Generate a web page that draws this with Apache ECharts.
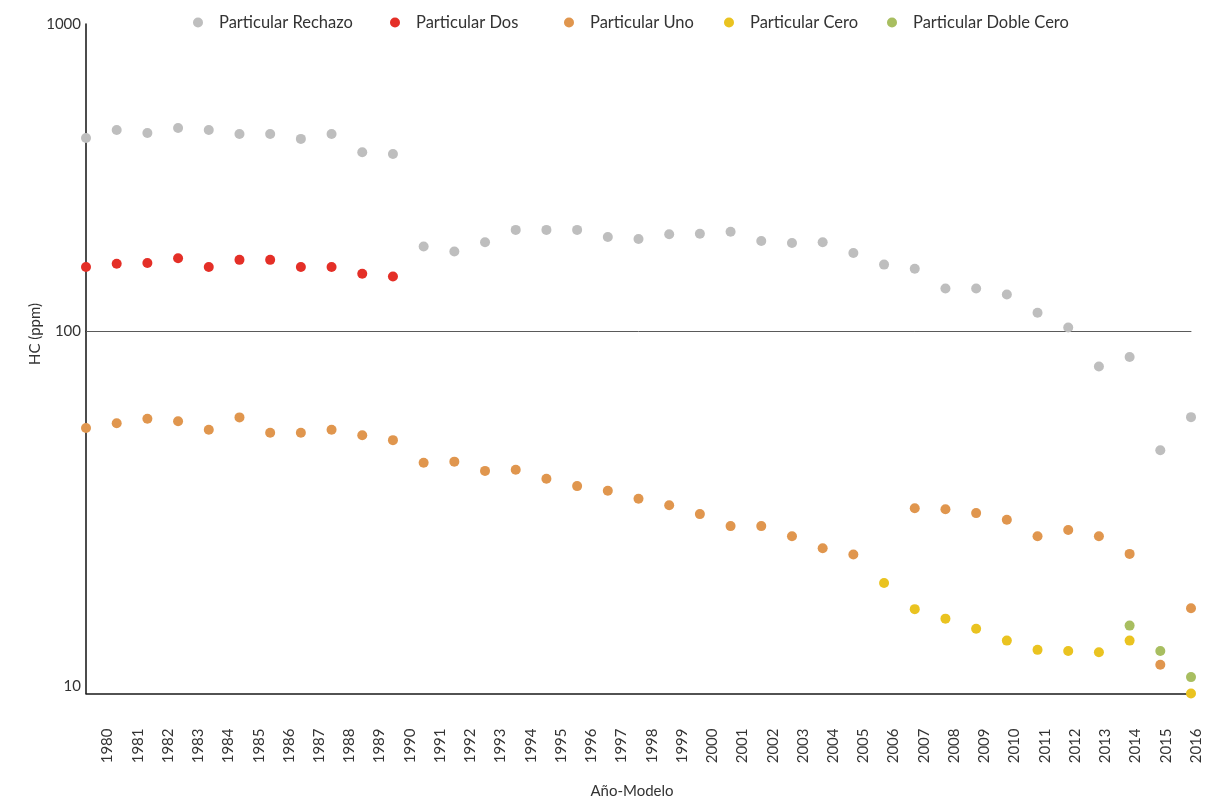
<!DOCTYPE html>
<html>
<head>
<meta charset="utf-8">
<title>HC (ppm) por Año-Modelo</title>
<script src="https://cdn.jsdelivr.net/npm/echarts@6/dist/echarts.min.js"></script>
<style>
  html, body { margin: 0; padding: 0; background: #fff; }
  #chart-wrap { width: 1224px; height: 801px; }
</style>
</head>
<body>
<div id="chart-wrap"></div>
<script>
  // categorias (año-modelo)
  const years = ['1980', '1981', '1982', '1983', '1984', '1985', '1986', '1987', '1988', '1989',
    '1990', '1991', '1992', '1993', '1994', '1995', '1996', '1997', '1998', '1999',
    '2000', '2001', '2002', '2003', '2004', '2005', '2006', '2007', '2008', '2009',
    '2010', '2011', '2012', '2013', '2014', '2015', '2016']

  // HC (ppm) por tipo
  const rechazo = [426, 452, 442, 459, 452, 439, 439, 423, 439, 383,
    378, 189, 182, 195, 214, 214, 214, 203, 200, 207,
    208, 211, 197, 194, 195, 180, 165, 160, 138, 138,
    132, 115, 103, 80, 85, 47, 58]
  const dos = [162, 166, 167, 173, 162, 171, 171, 162, 162, 154,
    151, null, null, null, null, null, null, null, null, null,
    null, null, null, null, null, null, null, null, null, null,
    null, null, null, null, null, null, null]
  const uno = [54.1, 55.8, 57.4, 56.5, 53.5, 57.9, 52.5, 52.5, 53.5, 51.7,
    50.1, 43.4, 43.7, 41.2, 41.5, 39.2, 37.4, 36.3, 34.5, 33.1,
    31.3, 29.0, 29.0, 27.2, 25.2, 24.2, null, 32.5, 32.3, 31.5,
    30.2, 27.2, 28.3, 27.2, 24.3, 12.0, 17.2]
  const cero = [null, null, null, null, null, null, null, null, null, null,
    null, null, null, null, null, null, null, null, null, null,
    null, null, null, null, null, null, 20.2, 17.1, 16.1, 15.1,
    14.0, 13.2, 13.1, 13.0, 14.0, null, 10.0]
  const dobleCero = [null, null, null, null, null, null, null, null, null, null,
    null, null, null, null, null, null, null, null, null, null,
    null, null, null, null, null, null, null, null, null, null,
    null, null, null, null, 15.4, 13.1, 11.1]

  const names = ['Particular Rechazo', 'Particular Dos', 'Particular Uno', 'Particular Cero', 'Particular Doble Cero']
  const valueLists = [rechazo, dos, uno, cero, dobleCero]
  const colors = ['#bebebe', '#e42f27', '#e0964e', '#eac320', '#a8be60']
  const legendLeft = [193, 390, 564, 724, 887]

  const font = 'Lato, "Noto Sans", sans-serif'
  const txtColor = '#333'

  const mychart = echarts.init(document.getElementById('chart-wrap'))

  // la escala log del original no es uniforme: cada decada va en su propio grid
  const series = []
  valueLists.forEach((list, i) => {
    const base = {
      type: 'scatter',
      name: names[i],
      symbol: 'circle',
      symbolSize: 10,
      clip: false,
      itemStyle: { color: colors[i], opacity: 1 },
      emphasis: { disabled: true }
    }
    series.push(Object.assign({}, base, {
      xAxisIndex: 0,
      yAxisIndex: 0,
      data: list.map(v => (v != null && v >= 100 ? v : '-'))
    }))
    series.push(Object.assign({}, base, {
      xAxisIndex: 1,
      yAxisIndex: 1,
      data: list.map(v => (v != null && v < 100 ? v : '-'))
    }))
  })

  const hiddenCat = (gridIndex, lineColor, lineWidth) => ({
    gridIndex,
    type: 'category',
    data: years,
    boundaryGap: false,
    axisLine: { show: true, lineStyle: { color: lineColor, width: lineWidth } },
    axisTick: { show: false },
    axisLabel: { show: false },
    splitLine: { show: false }
  })

  const options = {
    animation: false,
    backgroundColor: '#fff',
    textStyle: { fontFamily: font },
    legend: names.map((n, i) => ({
      data: [n],
      left: legendLeft[i],
      top: 14,
      padding: 0,
      icon: 'circle',
      itemWidth: 32,
      itemHeight: 10,
      textStyle: { fontSize: 16.5, color: txtColor, fontFamily: font }
    })),
    grid: [
      { left: 86, right: 33, top: 24, height: 307.5 },
      { left: 86, right: 33, top: 331.5, height: 362 },
      { left: 107.5, right: 28, top: 331.5, height: 362 }
    ],
    xAxis: [
      hiddenCat(0, '#5a5a5a', 1),
      hiddenCat(1, '#1a1a1a', 1.5),
      {
        gridIndex: 2,
        type: 'category',
        data: years,
        boundaryGap: false,
        axisLine: { show: false },
        axisTick: { show: false },
        splitLine: { show: false },
        axisLabel: {
          interval: 0,
          rotate: 90,
          margin: 35,
          fontSize: 15,
          color: txtColor,
          fontFamily: font
        }
      }
    ],
    yAxis: [
      {
        gridIndex: 0,
        type: 'log',
        logBase: 10,
        min: 100,
        max: 1000,
        axisLine: { show: true, lineStyle: { color: '#111', width: 1.5 } },
        axisTick: { show: false },
        splitLine: { show: false },
        axisLabel: {
          fontSize: 15,
          color: txtColor,
          fontFamily: font,
          margin: 5,
          formatter: v => String(Math.round(v))
        }
      },
      {
        gridIndex: 1,
        type: 'log',
        logBase: 10,
        min: 10,
        max: 100,
        axisLine: { show: true, lineStyle: { color: '#111', width: 1.5 } },
        axisTick: { show: false },
        splitLine: { show: false },
        axisLabel: {
          fontSize: 15,
          color: txtColor,
          fontFamily: font,
          margin: 5,
          verticalAlign: 'bottom',
          formatter: v => (Math.round(v) === 10 ? '10' : '')
        }
      },
      { gridIndex: 2, type: 'value', show: false }
    ],
    graphic: [
      {
        type: 'text',
        x: 35,
        y: 334,
        rotation: Math.PI / 2,
        style: {
          text: 'HC (ppm)',
          fontSize: 15,
          fontFamily: font,
          fill: txtColor,
          align: 'center',
          verticalAlign: 'middle'
        }
      },
      {
        type: 'text',
        x: 632,
        y: 791,
        style: {
          text: 'Año-Modelo',
          fontSize: 15,
          fontFamily: font,
          fill: txtColor,
          align: 'center',
          verticalAlign: 'middle'
        }
      }
    ],
    series
  }

  mychart.setOption(options)
  window.addEventListener('resize', function () {
    mychart.resize()
  })
</script>
</body>
</html>
